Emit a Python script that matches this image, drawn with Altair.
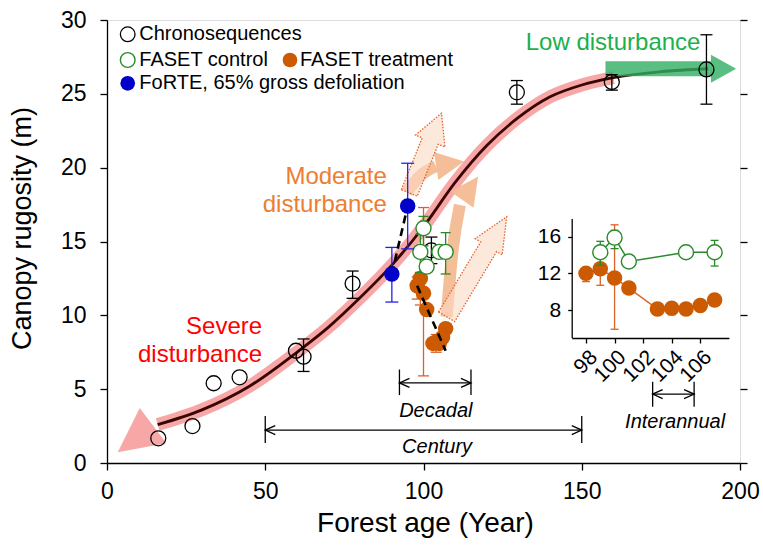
import altair as alt
import pandas as pd

FONT = "Liberation Sans"
GREEN = "#2a8a2a"
ORANGE = "#cc5a00"
ORANGE_BAR = "#d8642a"
BLUE = "#0000c8"
BLUE_BAR = "#2222e6"
PINK = "#f8a7a7"
PEACH = "#f3bb92"
LOWGREEN = "#2fae62"

# ---------------- data ----------------
chrono_age = [16.2, 27.0, 33.7, 41.9, 59.7, 62.1, 77.6, 102.5, 129.5, 159.5, 189.4]
chrono_rug = [1.67, 2.5, 5.4, 5.8, 7.6, 7.2, 12.15, 14.4, 25.1, 25.8, 26.65]
chrono_lo = [1.67, 2.5, 5.4, 5.8, 7.6, 6.2, 11.15, 13.5, 24.3, 25.25, 24.3]
chrono_hi = [1.67, 2.5, 5.4, 5.8, 7.6, 8.4, 13.0, 15.3, 25.9, 26.3, 29.0]

control_age = [99, 100, 101, 105, 107]
control_rug = [14.3, 15.9, 13.3, 14.3, 14.3]
control_lo = [12.9, 14.7, 13.0, 14.0, 12.8]
control_hi = [15.5, 16.7, 13.6, 14.6, 15.6]

treat_age = [98, 99, 100, 101, 103, 104, 105, 106, 107]
treat_rug = [12.0, 12.5, 11.5, 10.4, 8.1, 8.2, 8.1, 8.5, 9.1]
treat_lo = [11.1, 10.7, 5.9, 10.1, 7.8, 7.5, 7.8, 8.2, 8.8]
treat_hi = [12.6, 12.9, 17.3, 10.7, 8.4, 8.7, 8.4, 8.8, 9.4]

forte_age = [90, 95]
forte_rug = [12.8, 17.4]
forte_lo = [10.9, 14.5]
forte_hi = [14.6, 20.3]

treat_trend_age = [98, 107]
treat_trend_rug = [12.0, 7.6]

fit_age = [16, 30, 45, 60, 70, 80, 90, 100, 110, 120, 130, 140, 150, 160, 175, 190]
fit_rug = [2.6, 3.6, 5.2, 7.5, 9.2, 11.2, 13.4, 16.0, 19.0, 21.5, 23.4, 24.8, 25.6, 26.1, 26.5, 26.7]

# ---------------- annotation geometry ----------------
pink_band_max_age = 160
pink_head = {"age": [8.97], "rug": [1.63], "ang": [143]}
green_band = {"age": [157.5, 191.0], "rug": [26.7, 26.7]}
green_head = {"age": [194.8], "rug": [26.7]}
peach_shaft = {
    "id": ["a", "a", "a", "b", "b", "b"],
    "age": [94.7, 98.9, 103.9, 107.3, 109.2, 111.5],
    "rug": [18.35, 19.43, 20.1, 9.9, 14.42, 17.47],
}
peach_head = {"age": [108.4, 114.7], "rug": [20.26, 18.62], "ang": [351, 305]}
hatch_arrows = [
    # center age, center rugosity, angle, size, path
    (100.6, 20.99, 292, 7400, "M -1 -0.2 L 0.3 -0.2 L 0.3 -0.37 L 1 0 L 0.3 0.37 L 0.3 0.2 L -1 0.2 Z"),
    (116.8, 13.29, 301, 13600, "M -1 -0.16 L 0.4 -0.16 L 0.4 -0.27 L 1 0 L 0.4 0.27 L 0.4 0.16 L -1 0.16 Z"),
]
spans = [  # label, x1, x2, y_bar_top, y_bar_bottom, y_arrow, label_x, label_y
    ("Decadal", 92.4, 115.0, 6.33, 4.6, 5.42, 103.9, 3.55),
    ("Century", 50.0, 150.0, 3.18, 1.35, 2.23, 104.3, 1.1),
    ("Interannual", 172.4, 185.5, 5.5, 3.81, 4.67, 179.5, 2.8),
]
texts = [  # text, x, y, color, align
    ("Low disturbance", 159.9, 28.44, "#1db04c", "center"),
    ("Moderate", 88.4, 19.4, "#ee7d31", "right"),
    ("disturbance", 88.4, 17.5, "#ee7d31", "right"),
    ("Severe", 49.0, 9.23, "#ff0000", "right"),
    ("disturbance", 49.0, 7.31, "#ff0000", "right"),
]

TRI = "M -1 -1 L 1 0 L -1 1 Z"
GTRI = "M -0.9 -1 L 0.9 0 L -0.9 1 Z"
CHEV = "M 1 -0.45 L 0 0 L 1 0.45"

W, H = 633, 443

xs = alt.Scale(domain=[0, 200], nice=False, zero=False)
ys = alt.Scale(domain=[0, 30], nice=False, zero=False)

common_axis = dict(
    grid=False, domainColor="black", tickColor="black", labelColor="black",
    titleColor="black", domainWidth=1.3, tickWidth=1.3, labelFont=FONT,
    titleFont=FONT, titleFontWeight="normal", labelFlush=False, labelOverlap=False,
)
xaxis = alt.Axis(
    title="Forest age (Year)", values=[0, 50, 100, 150, 200], tickSize=7,
    labelFontSize=23, titleFontSize=28, labelPadding=10,
    titleX=318, titleY=60, titleBaseline="middle", titleAlign="center",
    **common_axis,
)
yaxis = alt.Axis(
    title="Canopy rugosity (m)", values=[0, 5, 10, 15, 20, 25, 30], tickSize=7,
    labelFontSize=23, titleFontSize=27, labelPadding=14,
    titleX=-85, titleY=208, titleBaseline="middle", titleAlign="center", titleAngle=270,
    **common_axis,
)


def X(f):
    return alt.X(f"{f}:Q", scale=xs, axis=xaxis)


def Y(f):
    return alt.Y(f"{f}:Q", scale=ys, axis=yaxis)


chrono_df = pd.DataFrame({"age": chrono_age, "rug": chrono_rug, "lo": chrono_lo, "hi": chrono_hi})
chrono_err = chrono_df[chrono_df.hi > chrono_df.lo]
control_df = pd.DataFrame({"age": control_age, "rug": control_rug, "lo": control_lo, "hi": control_hi})
treat_df = pd.DataFrame({"age": treat_age, "rug": treat_rug, "lo": treat_lo, "hi": treat_hi})
forte_df = pd.DataFrame({"age": forte_age, "rug": forte_rug, "lo": forte_lo, "hi": forte_hi})
trend_df = pd.DataFrame({"age": treat_trend_age, "rug": treat_trend_rug})
fit_df = pd.DataFrame({"age": fit_age, "rug": fit_rug})


def errbars(df, color, cap, xf=X, yf=Y, width=1.3):
    rule = alt.Chart(df).mark_rule(color=color, strokeWidth=width).encode(
        x=xf("age"), y=yf("lo"), y2=alt.Y2("hi"))
    lo = alt.Chart(df).mark_tick(orient="horizontal", size=cap, thickness=width, color=color, opacity=1).encode(
        x=xf("age"), y=yf("lo"))
    hi = alt.Chart(df).mark_tick(orient="horizontal", size=cap, thickness=width, color=color, opacity=1).encode(
        x=xf("age"), y=yf("hi"))
    return [rule, lo, hi]


layers = []
# pink band
layers.append(alt.Chart(fit_df[fit_df.age <= pink_band_max_age]).mark_line(
    color=PINK, strokeWidth=13, strokeCap="butt", interpolate="monotone").encode(x=X("age"), y=Y("rug")))
layers.append(alt.Chart(pd.DataFrame(pink_head)).mark_point(
    shape=TRI, size=1950, filled=True, color=PINK, opacity=1).encode(
    x=X("age"), y=Y("rug"), angle=alt.Angle("ang:Q", scale=None)))
# fitted curve
layers.append(alt.Chart(fit_df).mark_line(color="#3a0505", strokeWidth=2.8, interpolate="monotone").encode(
    x=X("age"), y=Y("rug")))
# green band
layers.append(alt.Chart(pd.DataFrame(green_band)).mark_line(
    color=LOWGREEN, strokeWidth=15, strokeCap="butt", opacity=0.8).encode(x=X("age"), y=Y("rug")))
layers.append(alt.Chart(pd.DataFrame(green_head)).mark_point(
    shape=GTRI, size=784, filled=True, color=LOWGREEN, opacity=0.8).encode(x=X("age"), y=Y("rug")))
# peach arrows
layers.append(alt.Chart(pd.DataFrame(peach_shaft)).mark_line(
    color=PEACH, strokeWidth=12, strokeCap="butt", interpolate="monotone", opacity=0.95).encode(
    x=X("age"), y=Y("rug"), detail="id:N"))
layers.append(alt.Chart(pd.DataFrame(peach_head)).mark_point(
    shape=TRI, size=800, filled=True, color=PEACH, opacity=0.95).encode(
    x=X("age"), y=Y("rug"), angle=alt.Angle("ang:Q", scale=None)))
# hatched arrows
for ax_, ay_, ang, sz, path in hatch_arrows:
    layers.append(alt.Chart(pd.DataFrame({"age": [ax_], "rug": [ay_]})).mark_point(
        shape=path, size=sz, angle=ang, filled=True, fill="#fbd9c4", fillOpacity=0.6,
        stroke="#e5622a", strokeWidth=1.3, strokeDash=[1.5, 1.5], opacity=1).encode(x=X("age"), y=Y("rug")))

# error bars and points
layers += errbars(chrono_err, "black", 12)
layers.append(alt.Chart(chrono_df).mark_point(
    shape="circle", size=225, filled=False, color="black", strokeWidth=1.3, opacity=1).encode(
    x=X("age"), y=Y("rug")))
layers += errbars(treat_df, ORANGE_BAR, 11)
layers.append(alt.Chart(treat_df).mark_circle(size=240, color=ORANGE, opacity=1).encode(x=X("age"), y=Y("rug")))
layers.append(alt.Chart(trend_df).mark_line(color="black", strokeWidth=2.6, strokeDash=[8, 5]).encode(
    x=X("age"), y=Y("rug")))
layers += errbars(control_df, GREEN, 10)
layers.append(alt.Chart(control_df).mark_point(
    shape="circle", size=225, filled=True, fill="white", stroke=GREEN, strokeWidth=1.4, opacity=1).encode(
    x=X("age"), y=Y("rug")))
layers += errbars(forte_df, BLUE_BAR, 13)
layers.append(alt.Chart(forte_df).mark_line(color="black", strokeWidth=2.6, strokeDash=[8, 5]).encode(
    x=X("age"), y=Y("rug")))
layers.append(alt.Chart(forte_df).mark_circle(size=240, color=BLUE, opacity=1).encode(x=X("age"), y=Y("rug")))

# span arrows (Decadal / Century / Interannual)
for lab, x1, x2, yt, yb, ya, lx, ly in spans:
    sdf = pd.DataFrame({"age": [x1, x2], "top": [yt, yt], "bot": [yb, yb], "mid": [ya, ya], "ang": [0, 180]})
    layers.append(alt.Chart(sdf).mark_rule(color="black", strokeWidth=1.3).encode(
        x=X("age"), y=Y("top"), y2=alt.Y2("bot")))
    layers.append(alt.Chart(sdf).mark_rule(color="black", strokeWidth=1.3).encode(
        x=alt.X("min(age):Q", scale=xs, axis=xaxis), x2=alt.X2("max(age)"), y=alt.Y("min(mid):Q", scale=ys, axis=yaxis)))
    layers.append(alt.Chart(sdf).mark_point(shape=CHEV, size=400, filled=False, color="black",
                                            strokeWidth=1.3, opacity=1).encode(
        x=X("age"), y=Y("mid"), angle=alt.Angle("ang:Q", scale=None)))
    layers.append(alt.Chart(pd.DataFrame({"age": [lx], "rug": [ly]})).mark_text(
        text=lab, font=FONT, fontSize=20, fontStyle="italic", color="black", align="center",
        baseline="middle").encode(x=X("age"), y=Y("rug")))

for t, tx, ty, col, al in texts:
    layers.append(alt.Chart(pd.DataFrame({"age": [tx], "rug": [ty]})).mark_text(
        text=t, font=FONT, fontSize=24, color=col, align=al, baseline="middle").encode(
        x=X("age"), y=Y("rug")))

# legend (drawn in pixel space of the plot area)
one = pd.DataFrame({"k": [0]})
leg_rows = [
    ("Chronosequences", 20.7, 32.3, 14.3, dict(filled=False, color="black", strokeWidth=1.3)),
    ("FASET control", 20.7, 32.3, 40.0, dict(filled=True, fill="white", stroke=GREEN, strokeWidth=1.4)),
    ("FASET treatment", 183.0, 193.0, 40.0, dict(filled=True, color=ORANGE)),
    ("FoRTE, 65% gross defoliation", 20.7, 32.3, 63.3, dict(filled=True, color=BLUE)),
]
for lab, mx, tx, yy, sty in leg_rows:
    layers.append(alt.Chart(one).mark_point(shape="circle", size=215, opacity=1, **sty).encode(
        x=alt.value(mx), y=alt.value(yy)))
    layers.append(alt.Chart(one).mark_text(text=lab, font=FONT, fontSize=20, color="black",
                                           align="left", baseline="middle").encode(
        x=alt.value(tx), y=alt.value(yy)))

main = alt.layer(*layers)

# right-hand frame ticks
right_ticks = alt.Chart(chrono_df).mark_point(opacity=0).encode(
    x=alt.X("age:Q", scale=xs, axis=None),
    y=alt.Y("rug:Q", scale=ys, axis=alt.Axis(
        orient="right", labels=False, domain=False, ticks=True, tickSize=7, tickWidth=1.3,
        tickColor="black", values=[0, 5, 10, 15, 20, 25, 30], title=None, grid=False)),
)

# ---------------- inset ----------------
ixs = alt.Scale(domain=[97, 108], range=[464.7, 621.9], nice=False, zero=False)
iys = alt.Scale(domain=[5, 18], range=[317.5, 198.4], nice=False, zero=False)
ixaxis = alt.Axis(orient="bottom", offset=-125, values=[98, 100, 102, 104, 106], labelAngle=315,
                  tickSize=5, labelFontSize=21, labelPadding=3, title=None, **common_axis)
iyaxis = alt.Axis(orient="left", offset=-464.7, values=[8, 12, 16], tickSize=4,
                  labelFontSize=21, labelPadding=7, title=None, **common_axis)


def IX(f):
    return alt.X(f"{f}:Q", scale=ixs, axis=ixaxis)


def IY(f):
    return alt.Y(f"{f}:Q", scale=iys, axis=iyaxis)


ilayers = []
ilayers.append(alt.Chart(treat_df).mark_line(color=ORANGE_BAR, strokeWidth=1.5).encode(x=IX("age"), y=IY("rug")))
ilayers += errbars(treat_df, ORANGE_BAR, 8, IX, IY)
ilayers.append(alt.Chart(treat_df).mark_circle(size=240, color=ORANGE, opacity=1).encode(x=IX("age"), y=IY("rug")))
ilayers.append(alt.Chart(control_df).mark_line(color=GREEN, strokeWidth=1.5).encode(x=IX("age"), y=IY("rug")))
ilayers += errbars(control_df, GREEN, 8, IX, IY)
ilayers.append(alt.Chart(control_df).mark_point(
    shape="circle", size=225, filled=True, fill="white", stroke=GREEN, strokeWidth=1.4, opacity=1).encode(
    x=IX("age"), y=IY("rug")))
inset = alt.layer(*ilayers)

chart = alt.layer(main, right_ticks, inset).resolve_scale(
    x="independent", y="independent"
).properties(
    width=W, height=H,
    padding={"left": 107, "top": 20, "right": 23, "bottom": 88},
    autosize=alt.AutoSizeParams(type="none"),
).configure_view(stroke="black", strokeWidth=1.3).configure(font=FONT, background="white")

chart.save("out.html", embed_options={"renderer": "svg", "actions": False})
